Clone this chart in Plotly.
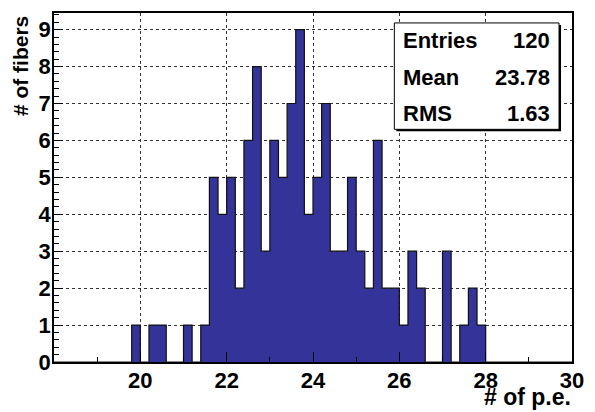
import plotly.graph_objects as go

# histogram binning (ROOT TH1: 60 bins from 18 to 30)
bin_lo = 18.0
bin_width = 0.2
counts = [0, 0, 0, 0, 0, 0, 0, 0, 0, 1,   # 18.0 - 19.8
          0, 1, 1, 0, 0, 1, 0, 1, 5, 4,   # 20.0 - 21.8
          5, 2, 6, 8, 3, 6, 5, 7, 9, 4,   # 22.0 - 23.8
          5, 7, 3, 3, 5, 3, 2, 6, 2, 2,   # 24.0 - 25.8
          1, 3, 2, 0, 0, 3, 0, 1, 2, 1,   # 26.0 - 27.8
          0, 0, 0, 0, 0, 0, 0, 0, 0, 0]   # 28.0 - 29.8

x_ticks = [20, 22, 24, 26, 28, 30]
y_ticks = [0, 1, 2, 3, 4, 5, 6, 7, 8, 9]

stat_names = ["Entries", "Mean", "RMS"]
stat_values = ["120", "23.78", "1.63"]

x_title = "# of p.e."
y_title = "# of fibers"

W, H = 595, 412
L, R, T, B = 54, 22, 11, 50
FONT = "Liberation Sans, Arial, sans-serif"


def px(x):
    return (x - L) / (W - L - R)


def py(y):
    return (H - B - y) / (H - T - B)


def bold(s):
    return "<b>%s</b>" % s


edges = [bin_lo + bin_width * i for i in range(len(counts) + 1)]
step_y = counts + [counts[-1]]

fig = go.Figure()
fig.add_trace(go.Scatter(x=edges, y=step_y, mode="lines", line_shape="hv",
                         fill="tozeroy", fillcolor="#333399",
                         line=dict(color="#111111", width=1.2),
                         hoverinfo="skip", showlegend=False))

axis_common = dict(showline=True, linecolor="black", linewidth=1.5, mirror=True,
                   ticks="inside", tickcolor="black", tickwidth=1,
                   showgrid=True, gridcolor="#333333", griddash="dot", gridwidth=1,
                   zeroline=False,
                   tickfont=dict(family=FONT, size=22, color="black"))

fig.update_xaxes(range=[18, 30], tickvals=x_ticks, ticktext=[bold(t) for t in x_ticks],
                 ticklen=10, ticklabelstandoff=-2,
                 minor=dict(ticks="inside", ticklen=5, dtick=1, tick0=19,
                            tickcolor="black", showgrid=False),
                 **axis_common)
fig.update_yaxes(range=[0, 9.45], tickvals=y_ticks, ticktext=[bold(t) for t in y_ticks],
                 ticklen=9, ticklabelstandoff=-3,
                 minor=dict(ticks="inside", ticklen=5, dtick=0.2,
                            tickcolor="black", showgrid=False),
                 **axis_common)

# stats box with shadow
bx0, bx1, by0, by1 = 395, 560, 21, 128
fig.add_shape(type="rect", xref="paper", yref="paper",
              x0=px(bx0 + 2), x1=px(bx1 + 2), y0=py(by0 + 2), y1=py(by1 + 2),
              fillcolor="black", line=dict(width=0), layer="above")
fig.add_shape(type="rect", xref="paper", yref="paper",
              x0=px(bx0), x1=px(bx1), y0=py(by0), y1=py(by1),
              fillcolor="white", line=dict(color="black", width=1), layer="above")

row_y = [39, 76, 112]
for name, val, ry in zip(stat_names, stat_values, row_y):
    fig.add_annotation(x=px(402), y=py(ry), xref="paper", yref="paper",
                       text=bold(name), showarrow=False, xanchor="left", yanchor="middle",
                       font=dict(family=FONT, size=22, color="black"))
    fig.add_annotation(x=px(553), y=py(ry), xref="paper", yref="paper",
                       text=bold(val), showarrow=False, xanchor="right", yanchor="middle",
                       font=dict(family=FONT, size=22, color="black"))

fig.add_annotation(x=px(574), y=py(412), xref="paper", yref="paper",
                   text=bold(x_title), showarrow=False, xanchor="right", yanchor="bottom",
                   font=dict(family=FONT, size=23, color="black"))
fig.add_annotation(x=px(21), y=py(12), xref="paper", yref="paper",
                   text=bold(y_title), showarrow=False, textangle=-90,
                   xanchor="center", yanchor="top",
                   font=dict(family=FONT, size=21, color="black"))

fig.update_layout(width=W, height=H, margin=dict(l=L, r=R, t=T, b=B),
                  paper_bgcolor="white", plot_bgcolor="white",
                  showlegend=False)

# the page body has an 8px default margin; drop it so the figure fills the window
fig.write_html("out.html", config={"displayModeBar": False},
               post_script="document.body.style.margin='0';")
